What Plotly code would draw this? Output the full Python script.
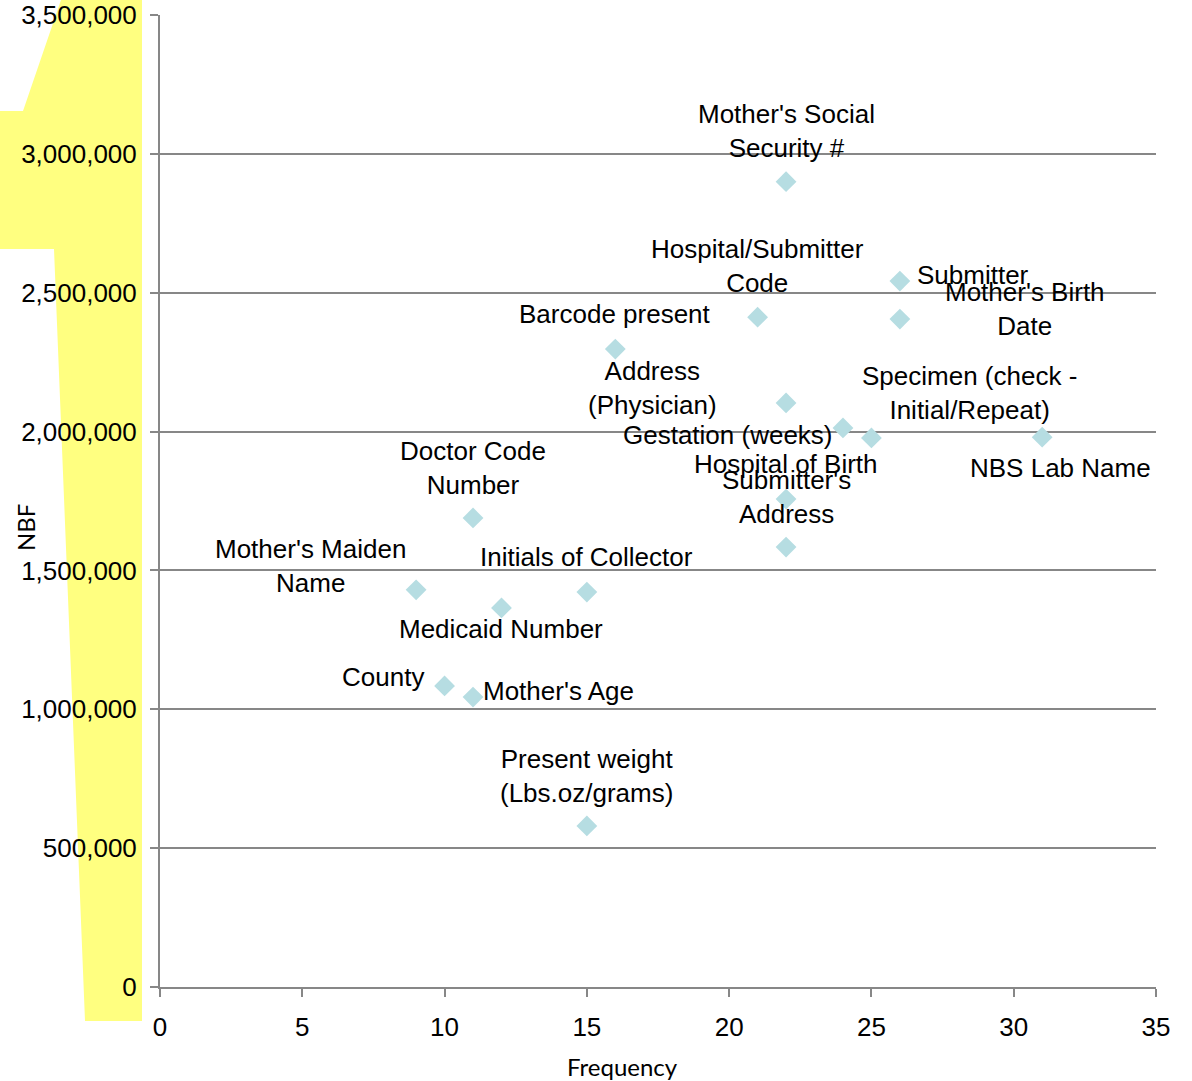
import plotly.graph_objects as go

# Data fields: how often each field was missing/incorrect and the resulting NBF
fields = [
    "Mother's Social<br>Security #",
    "Hospital/Submitter<br>Code",
    "Submitter",
    "Mother's Birth<br>Date",
    "Barcode present",
    "Address<br>(Physician)",
    "Gestation (weeks)",
    "Specimen (check -<br>Initial/Repeat)",
    "NBS Lab Name",
    "Hospital of Birth",
    "Submitter's<br>Address",
    "Doctor Code<br>Number",
    "Mother's Maiden<br>Name",
    "Initials of Collector",
    "Medicaid Number",
    "County",
    "Mother's Age",
    "Present weight<br>(Lbs.oz/grams)",
]
frequency = [22, 21, 26, 26, 16, 22, 24, 25, 31, 22, 22, 11, 9, 15, 12, 10, 11, 15]
nbf = [2900000, 2412000, 2542000, 2405000, 2297000, 2103000, 2013000, 1977000,
       1980000, 1757000, 1584000, 1689000, 1430000, 1422000, 1365000, 1084000,
       1044000, 580000]

# Label placement relative to each marker: (xanchor, xshift px, yshift px)
label_pos = [
    ("center", 0, 51), ("center", 0, 51), ("left", 15, 6), ("center", 125, 10),
    ("center", 0, 35), ("center", -134, 15), ("right", -8, -7), ("center", 98, 45),
    ("center", 18, -31), ("center", 0, 35), ("center", 0, 50), ("center", 0, 50),
    ("center", -106, 24), ("center", 0, 35), ("center", 0, -21), ("right", -19, 9),
    ("left", 8, 6), ("center", 0, 50),
]

W, H = 1192, 1081
L, R, T, B = 160, 36, 15, 94
PW, PH = W - L - R, H - T - B


def px(x):
    return (x - L) / PW


def py(y):
    return (H - B - y) / PH


LINE = "#878787"
FONT = "Liberation Sans, Arial, sans-serif"
TITLE_FONT = "Lato, Carlito, sans-serif"

fig = go.Figure()
fig.add_trace(go.Scatter(
    x=frequency, y=nbf, mode="markers",
    marker=dict(symbol="diamond", size=16, color="#B6DDE2", line=dict(width=0)),
    hoverinfo="skip", showlegend=False,
))

annotations = []
for name, fx, fy, (anc, dx, dy) in zip(fields, frequency, nbf, label_pos):
    annotations.append(dict(
        x=fx, y=fy, xref="x", yref="y", text=name, showarrow=False,
        xanchor=anc, yanchor="middle", xshift=dx, yshift=dy, align="center",
        font=dict(family=FONT, size=26, color="black"),
    ))

# axis titles
annotations.append(dict(
    x=px(25), y=py(528), xref="paper", yref="paper", text="NBF", textangle=-90,
    showarrow=False, xanchor="center", yanchor="middle",
    font=dict(family=TITLE_FONT, size=24, color="black"),
))
annotations.append(dict(
    x=px(622), y=py(1066), xref="paper", yref="paper", text="Frequency",
    showarrow=False, xanchor="center", yanchor="middle",
    font=dict(family=TITLE_FONT, size=24, color="black"),
))

# highlighted band behind the value axis labels
band = [(61, 0), (142, 0), (142, 1021), (85, 1021), (54, 249), (0, 249), (0, 111), (23, 111)]
path = "M " + " L ".join(f"{px(a):.5f},{py(b):.5f}" for a, b in band) + " Z"

fig.update_layout(
    width=W, height=H, autosize=False,
    margin=dict(l=L, r=R, t=T, b=B, pad=0),
    paper_bgcolor="white", plot_bgcolor="white",
    annotations=annotations,
    shapes=[dict(type="path", path=path, xref="paper", yref="paper",
                 fillcolor="#FFFF80", line=dict(width=0), layer="below")],
    xaxis=dict(
        range=[0, 35], dtick=5, tick0=0, showgrid=False, zeroline=False,
        showline=True, linecolor=LINE, linewidth=2, automargin=False,
        ticks="outside", ticklen=8, tickwidth=2, tickcolor=LINE,
        tickfont=dict(family=FONT, size=26, color="black"),
        ticklabelstandoff=8,
    ),
    yaxis=dict(
        range=[0, 3500000], dtick=500000, tick0=0, tickformat=",",
        showgrid=True, gridcolor=LINE, gridwidth=2, zeroline=False,
        showline=True, linecolor=LINE, linewidth=2, automargin=False,
        ticks="outside", ticklen=8, tickwidth=2, tickcolor=LINE,
        tickfont=dict(family=FONT, size=26, color="black"),
        ticklabelstandoff=8,
    ),
)

fig.write_html("out.html")
